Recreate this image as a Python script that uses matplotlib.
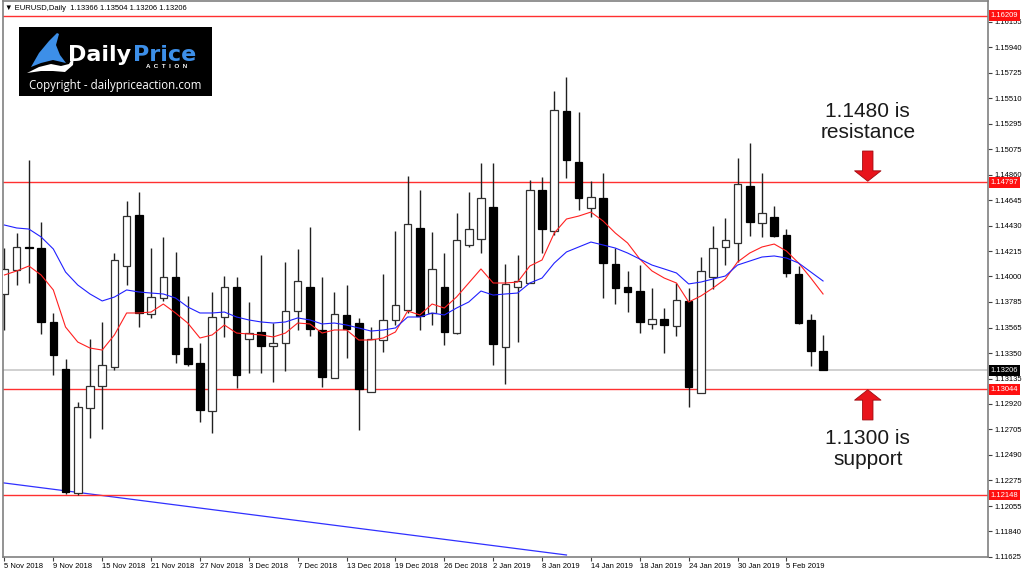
import matplotlib
matplotlib.use('Agg')
from matplotlib import pyplot as plt
from matplotlib.patches import Polygon
import matplotlib.transforms as mtransforms

plt.rcParams['font.family'] = ['Liberation Sans', 'DejaVu Sans']

# EURUSD daily, 5 Nov 2018 .. 8 Feb 2019
opens = [1.13851, 1.14054, 1.14249, 1.14240, 1.13614, 1.13216, 1.12165, 1.12885, 1.13072, 1.13233,
         1.14088, 1.14520, 1.13681, 1.13817, 1.13995, 1.13393, 1.13266, 1.12860, 1.13656, 1.13910,
         1.13470, 1.13529, 1.13410, 1.13436, 1.13707, 1.13910, 1.13546, 1.13139, 1.13673, 1.13605,
         1.13021, 1.13461, 1.13631, 1.13715, 1.14410, 1.13690, 1.13910, 1.13520, 1.14266, 1.14317,
         1.14588, 1.13402, 1.13910, 1.13944, 1.14732, 1.14384, 1.15401, 1.14969, 1.14579, 1.14664,
         1.14105, 1.13910, 1.13876, 1.13597, 1.13639, 1.13580, 1.13792, 1.13012, 1.13995, 1.14249,
         1.14283, 1.14766, 1.14452, 1.14503, 1.14351, 1.14020, 1.13631, 1.13366]
highs = [1.14240, 1.14367, 1.14986, 1.14461, 1.13690, 1.13300, 1.12936, 1.13470, 1.13614, 1.14198,
         1.14639, 1.14715, 1.14240, 1.14334, 1.14207, 1.13834, 1.13436, 1.13868, 1.14003, 1.13995,
         1.13783, 1.14181, 1.13605, 1.14122, 1.14232, 1.14418, 1.13995, 1.13868, 1.13927, 1.13648,
         1.13571, 1.14020, 1.14384, 1.14850, 1.14732, 1.14376, 1.14198, 1.14537, 1.14715, 1.14960,
         1.14960, 1.14105, 1.14181, 1.14816, 1.14842, 1.15570, 1.15689, 1.15392, 1.14808, 1.14876,
         1.14240, 1.14046, 1.14096, 1.13902, 1.13732, 1.13944, 1.13902, 1.14164, 1.14427, 1.14495,
         1.15003, 1.15130, 1.14876, 1.14596, 1.14401, 1.14088, 1.13681, 1.13504]
lows = [1.13546, 1.13927, 1.13944, 1.13512, 1.13165, 1.12155, 1.12148, 1.12631, 1.12707, 1.13207,
        1.13927, 1.13571, 1.13648, 1.13792, 1.13266, 1.13241, 1.12767, 1.12673, 1.13487, 1.13055,
        1.13182, 1.13182, 1.13105, 1.13199, 1.13546, 1.13495, 1.13063, 1.13139, 1.13309, 1.12699,
        1.13021, 1.13360, 1.13588, 1.13690, 1.13546, 1.13588, 1.13419, 1.13512, 1.14249, 1.14198,
        1.13249, 1.13089, 1.13444, 1.13944, 1.14198, 1.14351, 1.14833, 1.14562, 1.14503, 1.13817,
        1.13766, 1.13698, 1.13520, 1.13554, 1.13351, 1.13495, 1.12894, 1.13012, 1.13893, 1.14096,
        1.14122, 1.14342, 1.14334, 1.14334, 1.13995, 1.13597, 1.13241, 1.13206]
closes = [1.14063, 1.14249, 1.14240, 1.13614, 1.13334, 1.12174, 1.12894, 1.13072, 1.13249, 1.14139,
          1.14511, 1.13690, 1.13825, 1.13995, 1.13343, 1.13258, 1.12868, 1.13656, 1.13910, 1.13165,
          1.13520, 1.13410, 1.13436, 1.13707, 1.13961, 1.13554, 1.13148, 1.13681, 1.13554, 1.13046,
          1.13470, 1.13631, 1.13758, 1.14444, 1.13664, 1.14063, 1.13529, 1.14308, 1.14401, 1.14664,
          1.13427, 1.13936, 1.13961, 1.14732, 1.14401, 1.15409, 1.14986, 1.14664, 1.14672, 1.14113,
          1.13902, 1.13868, 1.13614, 1.13639, 1.13588, 1.13800, 1.13063, 1.14046, 1.14240, 1.14308,
          1.14783, 1.14461, 1.14537, 1.14342, 1.14029, 1.13605, 1.13368, 1.13206]

ma_fast = [1.14012, 1.14046, 1.14088, 1.14012, 1.13885, 1.13571, 1.13444, 1.13393, 1.13376, 1.13504,
           1.13690, 1.13690, 1.13698, 1.13766, 1.13690, 1.13605, 1.13478, 1.13504, 1.13588, 1.13520,
           1.13512, 1.13504, 1.13487, 1.13520, 1.13605, 1.13597, 1.13520, 1.13546, 1.13546, 1.13461,
           1.13461, 1.13478, 1.13529, 1.13707, 1.13673, 1.13766, 1.13732, 1.13825, 1.13944, 1.14063,
           1.13944, 1.13944, 1.13952, 1.14088, 1.14139, 1.14367, 1.14486, 1.14511, 1.14545, 1.14469,
           1.14367, 1.14283, 1.14147, 1.14046, 1.13986, 1.13944, 1.13783, 1.13834, 1.13902, 1.13978,
           1.14122, 1.14198, 1.14249, 1.14274, 1.14215, 1.14113, 1.13986, 1.13851]
ma_slow = [1.14435, 1.14410, 1.14401, 1.14334, 1.14232, 1.14037, 1.13927, 1.13851, 1.13792, 1.13825,
           1.13885, 1.13868, 1.13859, 1.13851, 1.13817, 1.13741, 1.13690, 1.13690, 1.13698, 1.13656,
           1.13631, 1.13614, 1.13605, 1.13614, 1.13648, 1.13631, 1.13597, 1.13605, 1.13588, 1.13563,
           1.13537, 1.13546, 1.13563, 1.13656, 1.13656, 1.13690, 1.13673, 1.13732, 1.13783, 1.13876,
           1.13842, 1.13851, 1.13859, 1.13944, 1.13986, 1.14113, 1.14207, 1.14249, 1.14291, 1.14266,
           1.14240, 1.14198, 1.14147, 1.14096, 1.14063, 1.14029, 1.13936, 1.13952, 1.13978, 1.14003,
           1.14096, 1.14130, 1.14164, 1.14173, 1.14156, 1.14113, 1.14037, 1.13961]

date_labels = ['5 Nov 2018', '9 Nov 2018', '15 Nov 2018', '21 Nov 2018', '27 Nov 2018',
               '3 Dec 2018', '7 Dec 2018', '13 Dec 2018', '19 Dec 2018', '26 Dec 2018',
               '2 Jan 2019', '8 Jan 2019', '14 Jan 2019', '18 Jan 2019', '24 Jan 2019',
               '30 Jan 2019', '5 Feb 2019']
price_ticks = [1.16155, 1.15940, 1.15725, 1.15510, 1.15295, 1.15075, 1.14860, 1.14645, 1.14430,
               1.14215, 1.14000, 1.13785, 1.13565, 1.13350, 1.13135, 1.12920, 1.12705, 1.12490,
               1.12275, 1.12055, 1.11840, 1.11625]
levels = [1.16209, 1.14797, 1.13044, 1.12148]
trend_x = [-1, 46]
trend_y = [1.12263, 1.11640]

fig = plt.figure(figsize=(10.24, 5.74), dpi=100)
ax = fig.add_axes([2.5 / 1024, 17 / 574, 985.5 / 1024, 556.5 / 574])
ax.set_xlim(-0.16, 80.5)
ax.set_ylim(1.11623, 1.16337)

n = len(opens)
idx = list(range(n))

# wicks
ax.vlines(idx, lows, highs, color='#202020', lw=1, zorder=2)

# bodies
for i in idx:
    o, c = opens[i], closes[i]
    lo, h = min(o, c), max(abs(c - o), 0.00003)
    if c >= o:
        ax.bar(i, h, bottom=lo, width=0.62, color='white', edgecolor='#303030', lw=0.9, zorder=3)
    else:
        ax.bar(i, h, bottom=lo, width=0.62, color='black', edgecolor='black', lw=0.9, zorder=3)

ax.plot(idx, ma_fast, color='#ff2020', lw=0.8, zorder=4)
ax.plot(idx, ma_slow, color='#2020ff', lw=0.8, zorder=4)
ax.plot(trend_x, trend_y, color='#3030ff', lw=0.9, zorder=1)

for lv in levels:
    ax.axhline(lv, color='#ff3030', lw=1, zorder=1)
ax.axhline(closes[-1], color='#c8c8c8', lw=1.2, zorder=1)

# axes look
for s in ax.spines.values():
    s.set_color('#808080')
    s.set_linewidth(1.2)
ax.yaxis.tick_right()
ax.set_yticks(price_ticks)
ax.set_yticklabels(['%.5f' % p for p in price_ticks])
ax.set_xticks(range(0, 4 * len(date_labels), 4))
ax.set_xticklabels(date_labels, ha='left')
ax.tick_params(axis='y', length=3, width=0.8, pad=2, labelsize=5.5, color='#404040')
ax.tick_params(axis='x', length=3, width=0.8, pad=1.5, labelsize=5.5, color='#404040')

# right side price labels
blend = mtransforms.blended_transform_factory(ax.transAxes, ax.transData)
for lv in levels:
    ax.text(1.003, lv, '%.5f' % lv, transform=blend, fontsize=5.5, color='white', va='center',
            ha='left', clip_on=False, zorder=6,
            bbox=dict(boxstyle='square,pad=0.25', fc='#ff1010', ec='none'))
ax.text(1.003, closes[-1], '%.5f' % closes[-1], transform=blend, fontsize=5.5, color='white',
        va='center', ha='left', clip_on=False, zorder=6,
        bbox=dict(boxstyle='square,pad=0.25', fc='black', ec='none'))

ax.text(0.003, 0.992, '\u25bc EURUSD,Daily  %.5f %.5f %.5f %.5f'
        % (opens[-1], highs[-1], lows[-1], closes[-1]),
        transform=ax.transAxes, fontsize=5.5, va='top', ha='left', color='black')

# annotations
ax.text(70.66, 1.15308, '1.1480 is\nresistance', ha='center', va='center', fontsize=15,
        color='#1a1a1a', linespacing=1.15)
ax.text(70.66, 1.12538, '1.1300 is\nsupport', ha='center', va='center', fontsize=15,
        color='#1a1a1a', linespacing=1.15)
arrow = dict(arrowstyle='simple,head_length=7.5,head_width=19,tail_width=7.5',
             mutation_scale=1, fc='#e8141c', ec='#a00a10', lw=0.6, shrinkA=0, shrinkB=0)
ax.annotate('', xy=(70.66, 1.14806), xytext=(70.66, 1.15062), arrowprops=arrow)
ax.annotate('', xy=(70.66, 1.13040), xytext=(70.66, 1.12784), arrowprops=arrow)

# logo box
lg = fig.add_axes([19 / 1024, 1 - 96 / 574, 193 / 1024, 69 / 574])
lg.set_facecolor('black')
lg.set_xlim(0, 193)
lg.set_ylim(69, 0)
lg.set_xticks([])
lg.set_yticks([])
for s in lg.spines.values():
    s.set_visible(False)
lg.add_patch(Polygon([(12, 40), (20, 26), (30, 14), (38, 6), (40, 7), (37, 18), (41, 28),
                      (47, 36), (34, 33), (22, 36)], closed=True, fc='#3d8fe8', ec='none'))
lg.add_patch(Polygon([(8, 46), (20, 40), (32, 37), (42, 39), (50, 37), (55, 28), (54, 38),
                      (46, 45), (34, 44), (22, 44)], closed=True, fc='white', ec='none'))
lg.text(49, 34, 'Daily', color='white', fontsize=16, fontweight='bold', family='DejaVu Sans',
        ha='left', va='baseline')
lg.text(114, 34, 'Price', color='#3d8fe8', fontsize=16, fontweight='bold', family='DejaVu Sans',
        ha='left', va='baseline')
lg.text(148, 40, 'A  C  T  I  O  N', color='white', fontsize=4.5, fontweight='bold',
        ha='center', va='center')
lg.text(96.5, 58, 'Copyright - dailypriceaction.com', color='white', fontsize=8.3,
        family='Open Sans', ha='center', va='center')

fig.savefig('out.png', dpi=100, facecolor='white')
